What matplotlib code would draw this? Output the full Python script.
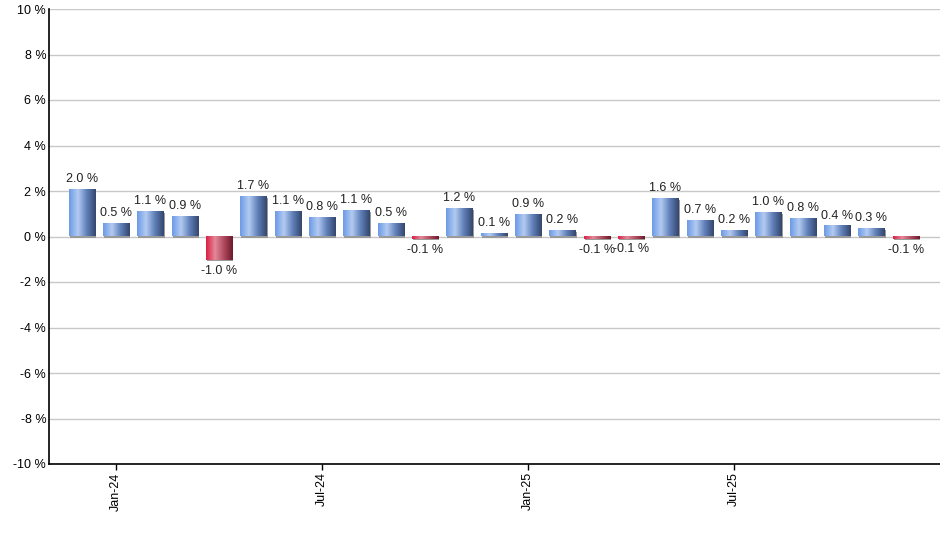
import numpy as np
import matplotlib
matplotlib.use("Agg")
import matplotlib.pyplot as plt
from matplotlib.colors import LinearSegmentedColormap
from matplotlib.patches import Rectangle
from matplotlib.transforms import ScaledTranslation

plt.rcParams['font.family'] = ['Liberation Sans', 'DejaVu Sans']

meses = ['Dec-23', 'Jan-24', 'Feb-24', 'Mar-24', 'Apr-24', 'May-24', 'Jun-24',
         'Jul-24', 'Aug-24', 'Sep-24', 'Oct-24', 'Nov-24', 'Dec-24',
         'Jan-25', 'Feb-25', 'Mar-25', 'Apr-25', 'May-25', 'Jun-25',
         'Jul-25', 'Aug-25', 'Sep-25', 'Oct-25', 'Nov-25', 'Dec-25']
valores = [2.04, 0.54, 1.09, 0.87, -1.03, 1.74, 1.09, 0.82, 1.13, 0.54, -0.12,
           1.22, 0.12, 0.94, 0.24, -0.12, -0.09, 1.64, 0.68, 0.24, 1.04, 0.78,
           0.44, 0.33, -0.12]
marcas = ['Jan-24', 'Jul-24', 'Jan-25', 'Jul-25']
y_ticks = [-10, -8, -6, -4, -2, 0, 2, 4, 6, 8, 10]

azul = LinearSegmentedColormap.from_list('azul', ['#6d9be6', '#b3cbf2', '#5f7fb8', '#34476e'])
rojo = LinearSegmentedColormap.from_list('rojo', ['#dc1f45', '#e3899a', '#b04a5e', '#6e1a2b'])
grad = np.linspace(0, 1, 64).reshape(1, -1)

fig = plt.figure(figsize=(9.4, 5.5), dpi=100)
ax = fig.add_axes([49 / 940, 1 - 464 / 550, 1 - 49 / 940, 455 / 550])

ancho = 0.76
sombra = ax.transData + ScaledTranslation(1.2 / 100, -1.2 / 100, fig.dpi_scale_trans)
for i, v in enumerate(valores):
    ax.add_patch(Rectangle((i - ancho / 2, 0), ancho, v, facecolor='#9a9a9a',
                           edgecolor='none', transform=sombra, zorder=2))
    cmap = azul if v >= 0 else rojo
    ax.imshow(grad, extent=[i - ancho / 2, i + ancho / 2, min(0, v), max(0, v)],
              aspect='auto', cmap=cmap, interpolation='bilinear', zorder=3)
    etiqueta = f'{v:.1f} %'
    if v >= 0:
        ax.annotate(etiqueta, (i, v), xytext=(0, 3.5), textcoords='offset points',
                    ha='center', va='bottom', fontsize=9, color='#222222')
    else:
        ax.annotate(etiqueta, (i, v), xytext=(0, -3.5), textcoords='offset points',
                    ha='center', va='top', fontsize=9, color='#222222')

ax.set_xlim(-0.95, 25)
ax.set_ylim(-10, 10)
ax.set_yticks(y_ticks)
ax.set_yticklabels([f'{t} %' for t in y_ticks], fontsize=9)
ax.tick_params(axis='y', length=0, pad=2)
ax.grid(axis='y', color='#c8c8c8', linewidth=1, zorder=0)
ax.set_axisbelow(True)

ax.set_xticks([meses.index(m) for m in marcas])
ax.set_xticklabels(marcas, rotation=90, fontsize=9)
ax.tick_params(axis='x', length=4, width=1, pad=2)

for s in ['top', 'right']:
    ax.spines[s].set_visible(False)
ax.spines['left'].set_linewidth(1.2)
ax.spines['bottom'].set_linewidth(1.2)

fig.savefig('out.png', dpi=100)
